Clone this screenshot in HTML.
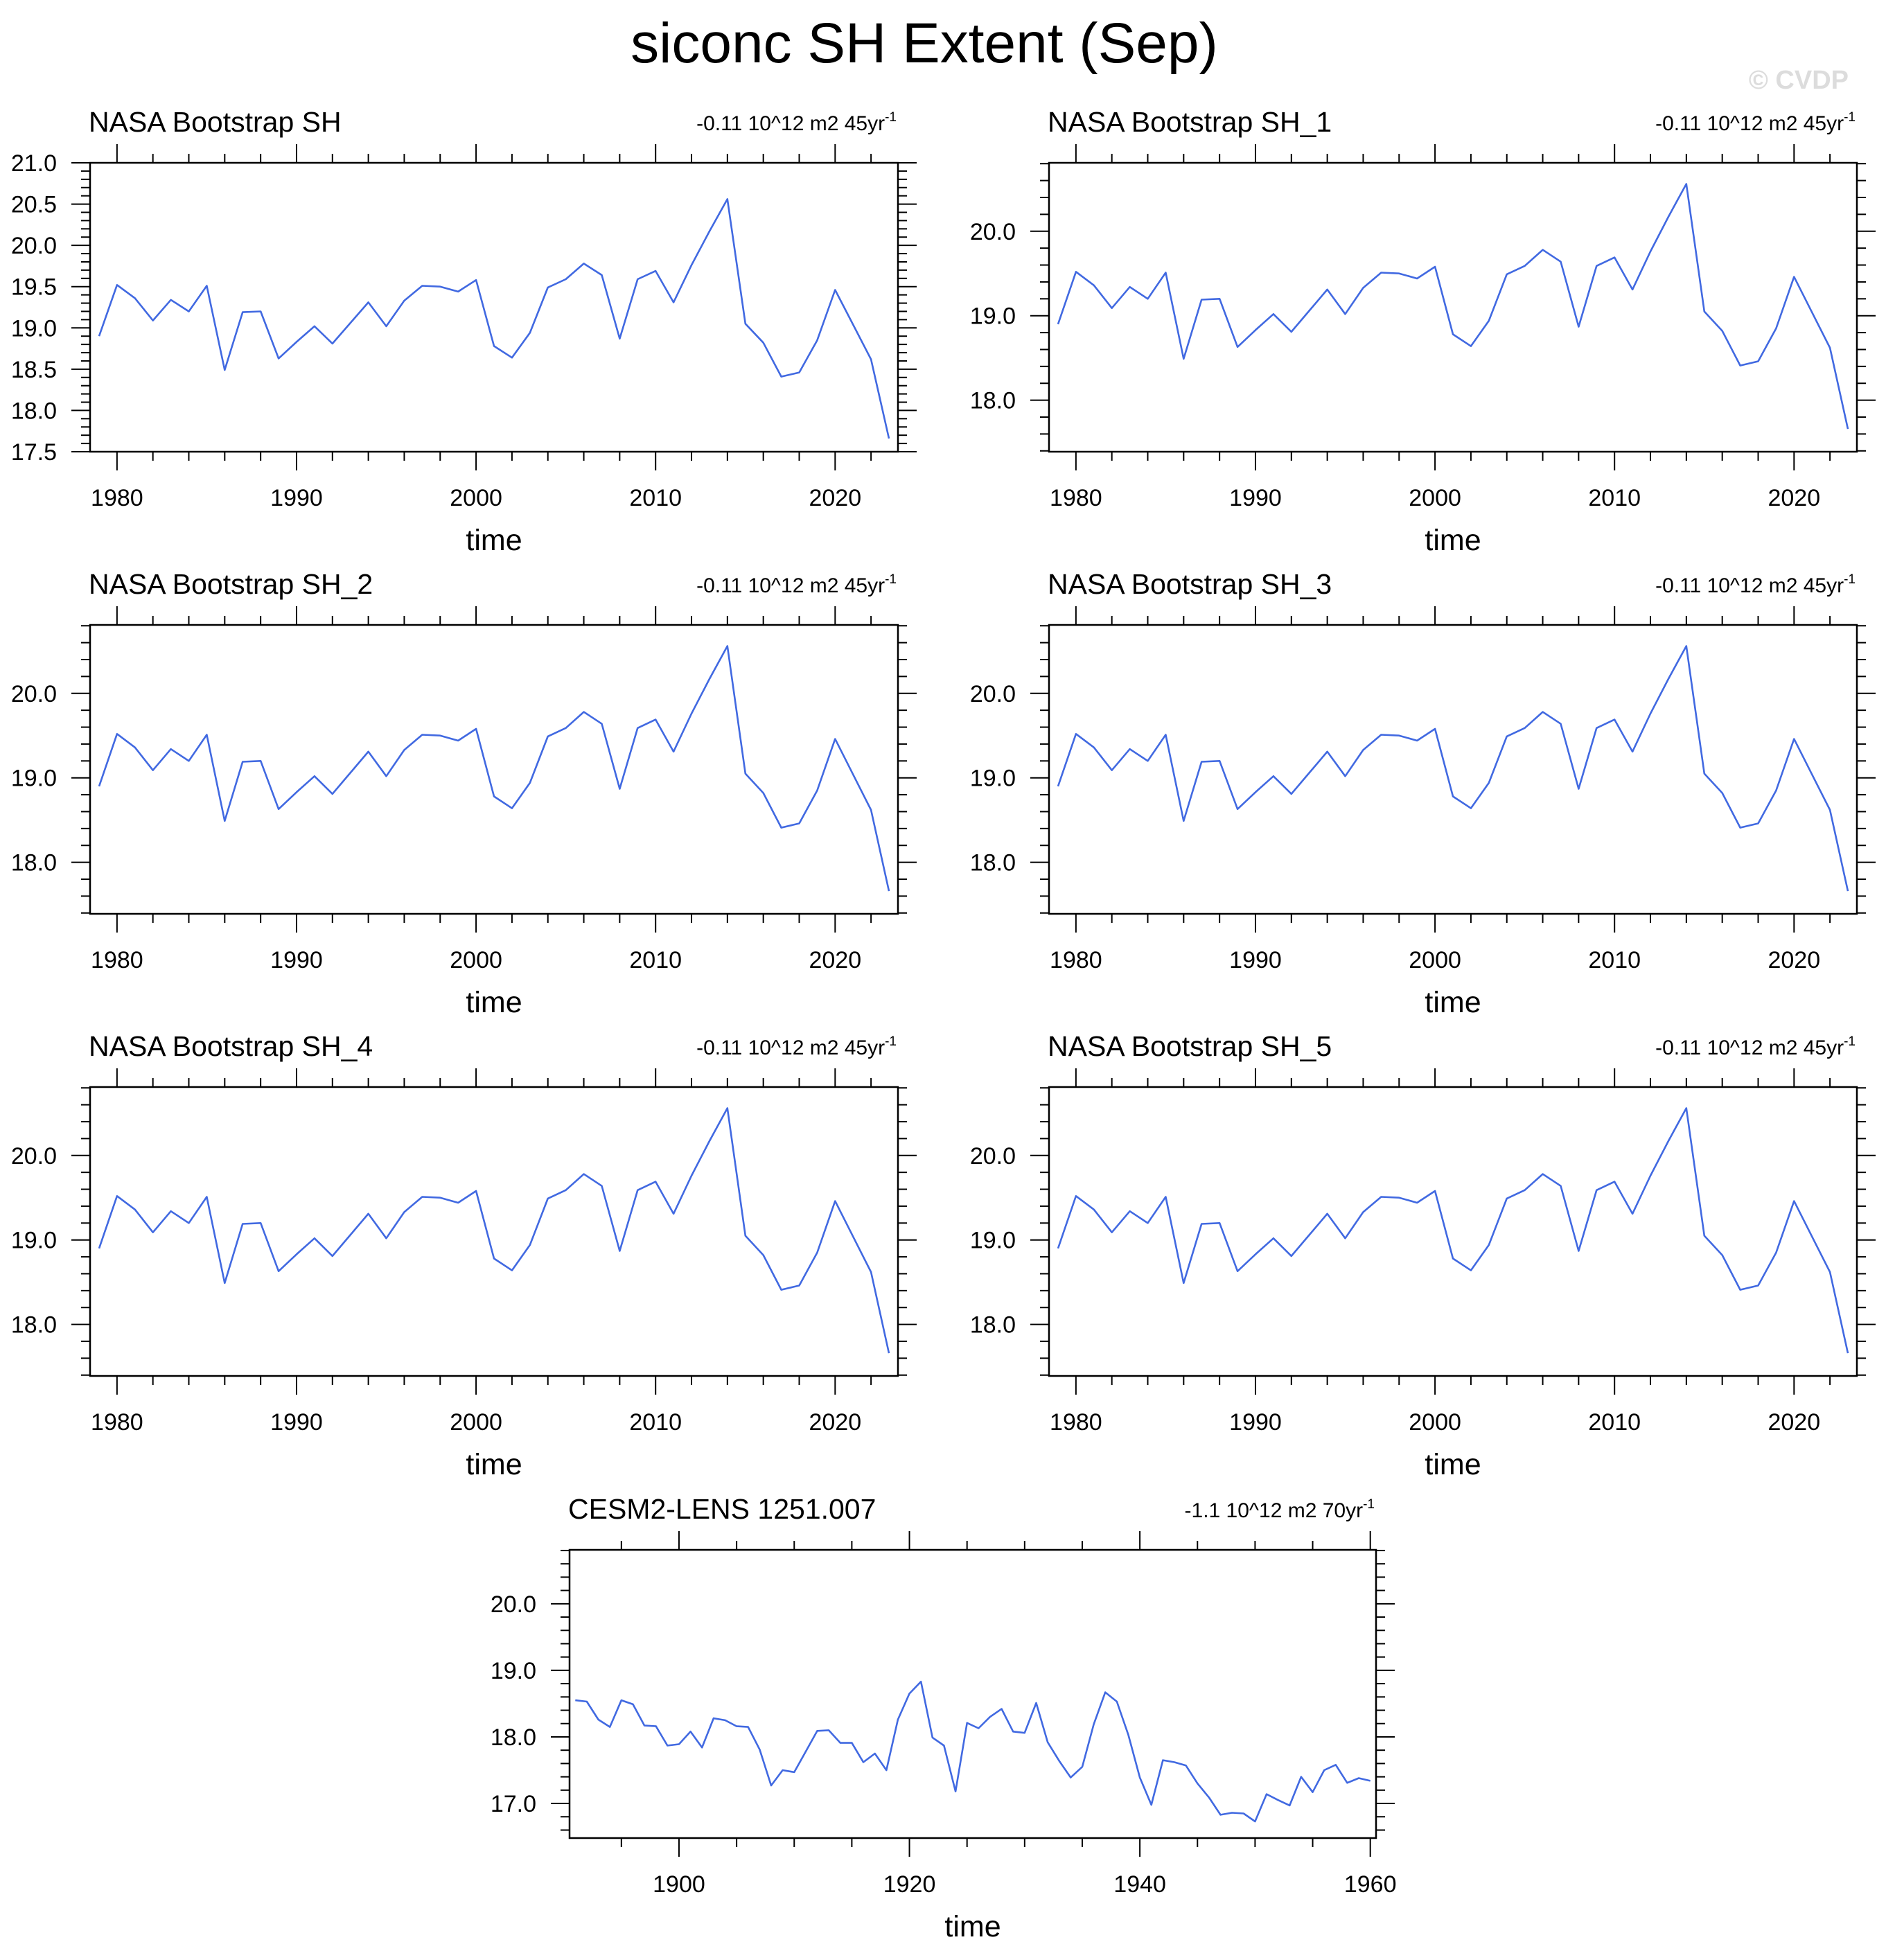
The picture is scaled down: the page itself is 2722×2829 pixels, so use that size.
<!DOCTYPE html>
<html><head><meta charset="utf-8"><style>
html,body{margin:0;padding:0;background:#fff;}
svg{display:block;font-family:"Liberation Sans",sans-serif;}
</style></head><body>
<svg id="fig" xmlns="http://www.w3.org/2000/svg" width="2722" height="2829" viewBox="0 0 2722 2829">
<rect width="2722" height="2829" fill="#fff"/>
<text x="1334" y="90" font-size="82" text-anchor="middle" fill="#000">siconc SH Extent (Sep)</text>
<text x="2668" y="128" font-size="38" font-weight="bold" text-anchor="end" fill="#dcdcdc">© CVDP</text>
</svg>
<script>
// Observed Sep SH sea-ice extent (10^12 m2), 1979-2023
const obsYears = [1979,1980,1981,1982,1983,1984,1985,1986,1987,1988,1989,1990,1991,1992,1993,1994,1995,1996,1997,1998,1999,2000,2001,2002,2003,2004,2005,2006,2007,2008,2009,2010,2011,2012,2013,2014,2015,2016,2017,2018,2019,2020,2021,2022,2023];
const obsValues = [18.90,19.52,19.36,19.09,19.34,19.20,19.51,18.49,19.19,19.20,18.63,18.83,19.02,18.81,19.06,19.31,19.02,19.33,19.51,19.50,19.44,19.58,18.78,18.64,18.94,19.49,19.59,19.78,19.64,18.87,19.59,19.69,19.31,19.76,20.17,20.56,19.05,18.82,18.41,18.46,18.85,19.46,19.04,18.62,17.66];
// CESM2-LENS 1251.007, 1891-1960
const cesmStartYear = 1891;
const cesmValues = [18.55,18.53,18.26,18.15,18.55,18.49,18.17,18.16,17.87,17.89,18.08,17.84,18.28,18.25,18.16,18.15,17.81,17.27,17.50,17.47,17.78,18.09,18.10,17.91,17.91,17.62,17.75,17.50,18.26,18.65,18.83,17.99,17.87,17.18,18.21,18.13,18.30,18.42,18.08,18.06,18.51,17.92,17.64,17.39,17.55,18.19,18.67,18.53,18.03,17.39,16.98,17.65,17.62,17.57,17.30,17.09,16.83,16.86,16.85,16.73,17.14,17.05,16.97,17.40,17.17,17.50,17.58,17.31,17.38,17.34];
const panelTitles = ["NASA Bootstrap SH","NASA Bootstrap SH_1","NASA Bootstrap SH_2","NASA Bootstrap SH_3","NASA Bootstrap SH_4","NASA Bootstrap SH_5","CESM2-LENS 1251.007"];
const trendLabels = ["-0.11 10^12 m2 45yr","-0.11 10^12 m2 45yr","-0.11 10^12 m2 45yr","-0.11 10^12 m2 45yr","-0.11 10^12 m2 45yr","-0.11 10^12 m2 45yr","-1.1 10^12 m2 70yr"];
const obsXTicks = [1980,1990,2000,2010,2020];
const cesmXTicks = [1900,1920,1940,1960];
const yTicksFirst = [17.5,18.0,18.5,19.0,19.5,20.0,20.5,21.0];
const yTicksOther = [17.0,18.0,19.0,20.0];

const NS = "http://www.w3.org/2000/svg";
const svg = document.getElementById("fig");
function mk(tag, attrs, parent) {
  const e = document.createElementNS(NS, tag);
  for (const k in attrs) e.setAttribute(k, attrs[k]);
  (parent || svg).appendChild(e);
  return e;
}

function drawPanel(i, L, R, T, B, years, vals, xmin, xmax, ymin, ymax, xTicks, xMinorStep, yTicks, yMinorStep) {
  const g = mk("g", {});
  
  
  const sx = v => L + (v - xmin) / (xmax - xmin) * (R - L);
  const sy = v => B - (v - ymin) / (ymax - ymin) * (B - T);
  const x0 = Math.ceil(xmin / xMinorStep) * xMinorStep;
  for (let v = x0; v <= xmax + 1e-9; v += xMinorStep) {
    const major = xTicks.indexOf(Math.round(v)) >= 0;
    const len = major ? 27 : 13;
    const x = sx(v);
    mk("line", {x1: x, x2: x, y1: T, y2: T - len, stroke: "#000", "stroke-width": 2}, g);
    mk("line", {x1: x, x2: x, y1: B, y2: B + len, stroke: "#000", "stroke-width": 2}, g);
  }
  const y0 = Math.ceil((ymin - 1e-6) / yMinorStep) * yMinorStep;
  for (let v = y0; v <= ymax + 1e-6; v += yMinorStep) {
    const major = yTicks.some(t => Math.abs(t - v) < 1e-6);
    const len = major ? 27 : 13;
    const y = sy(v);
    mk("line", {x1: L, x2: L - len, y1: y, y2: y, stroke: "#000", "stroke-width": 2}, g);
    mk("line", {x1: R, x2: R + len, y1: y, y2: y, stroke: "#000", "stroke-width": 2}, g);
  }
  const box = mk("rect", {x: L, y: T, width: R - L, height: B - T, fill: "none", stroke: "#000", "stroke-width": 2.5}, g);
  
  
  xTicks.forEach(t => {
    const tx = mk("text", {x: sx(t), y: B + 78, "font-size": 34, "text-anchor": "middle", fill: "#000"}, g);
    tx.textContent = String(t);
    
    
  });
  yTicks.forEach(t => {
    if (t < ymin - 1e-6 || t > ymax + 1e-6) return;
    const ty = mk("text", {x: L - 48, y: sy(t) + 12, "font-size": 34, "text-anchor": "end", fill: "#000"}, g);
    ty.textContent = t.toFixed(1);
    
    
  });
  const pts = vals.map((v, k) => sx(years[k]).toFixed(1) + "," + sy(v).toFixed(1)).join(" ");
  const ln = mk("polyline", {points: pts, fill: "none", stroke: "#4169e1", "stroke-width": 2.6, "stroke-linejoin": "round"}, g);
  
  
  const tt = mk("text", {x: L - 2, y: T - 45, "font-size": 41, fill: "#000"}, g);
  tt.textContent = panelTitles[i];
  
  
  const tr = mk("text", {x: R - 2, y: T - 47, "font-size": 30, "text-anchor": "end", fill: "#000"}, g);
  tr.textContent = trendLabels[i];
  const sup = mk("tspan", {dy: -13, "font-size": 19}, tr);
  sup.textContent = "-1";
  
  
  const xt = mk("text", {x: (L + R) / 2, y: B + 142, "font-size": 43, "text-anchor": "middle", fill: "#000"}, g);
  xt.textContent = "time";
  
  
}

const cols = [[130, 1296], [1514, 2680]];
const rowTops = [235, 902, 1569];
const H = 417;
for (let i = 0; i < 6; i++) {
  const c = cols[i % 2], T = rowTops[Math.floor(i / 2)];
  if (i === 0) {
    drawPanel(i, c[0], c[1], T, T + H, obsYears, obsValues, 1978.5, 2023.5, 17.5, 21.0, obsXTicks, 2, yTicksFirst, 0.1);
  } else {
    drawPanel(i, c[0], c[1], T, T + H, obsYears, obsValues, 1978.5, 2023.5, 17.39, 20.81, obsXTicks, 2, yTicksOther, 0.2);
  }
}
const cesmYears = cesmValues.map((v, k) => cesmStartYear + k);
drawPanel(6, 822, 1986, 2237, 2653, cesmYears, cesmValues, 1890.5, 1960.5, 16.48, 20.81, cesmXTicks, 5, yTicksOther, 0.2);
</script>
</body></html>
